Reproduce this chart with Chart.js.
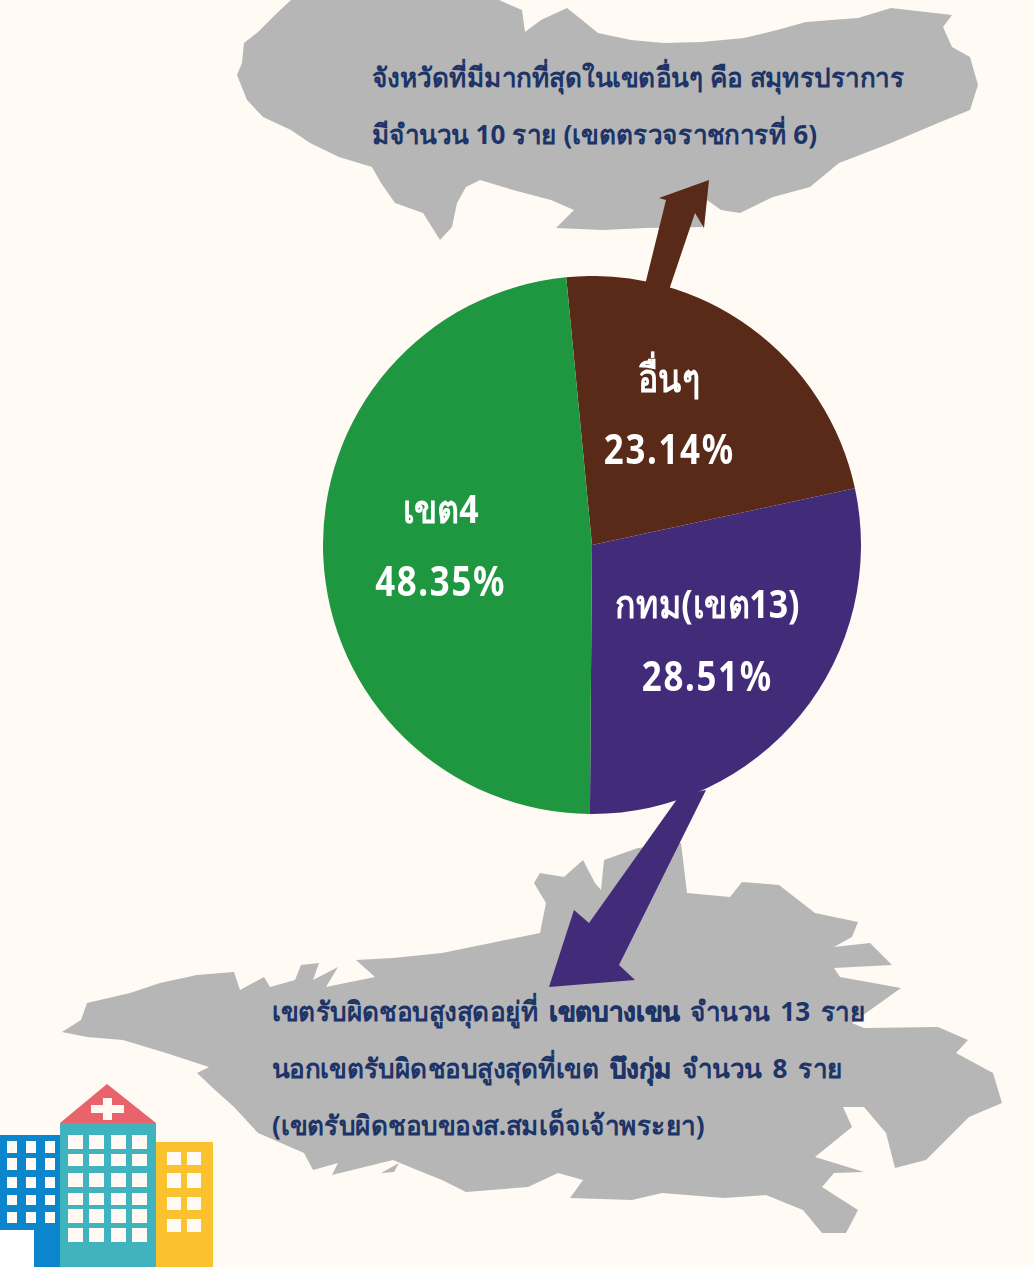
<!DOCTYPE html>
<html lang="th">
<head>
<meta charset="utf-8">
<title>เขตรับผิดชอบ</title>
<script src="https://cdn.jsdelivr.net/npm/chart.js@4"></script>
<style>
    html, body { margin: 0; padding: 0; background: #fffaf3; }
    #page { position: relative; width: 1033px; height: 1267px; overflow: hidden; background: #fffaf3; }
    #decor { position: absolute; left: 0; top: 0; }
    #pieWrap { position: absolute; left: 323px; top: 276px; width: 538px; height: 538px; }
    .note { position: absolute; white-space: nowrap; color: #1c3468; font-family: "Noto Sans", sans-serif; font-size: 27px; font-weight: 700; line-height: 57px; transform: scaleX(0.968); transform-origin: left top; }
    .note b { -webkit-text-stroke: 0.7px #1c3468; }
</style>
</head>
<body>
<div id="page">
    <svg id="decor" width="1033" height="1267">
        <!-- map shapes -->
        <polygon fill="#b6b6b6" points="291,0 277,13 258,32 244,43 242,63 237,75 247,100 263,117 291,130 310,143 339,157 372,167 381,183 395,203 423,213 440,240 452,227 457,203 466,187 480,180 513,190 551,200 574,210 556,228 603,230 645,228 702,227 707,200 721,210 740,213 773,197 810,187 839,163 891,143 938,123 970,110 978,85 970,57 952,47 943,27 952,15 891,8 858,18 806,22 777,30 744,38 702,42 664,43 631,40 598,33 582,20 567,8 541,20 525,32 522,10 499,0"/>
        <polygon fill="#b6b6b6" points="62,1032 81,1020 87,1003 130,993 160,983 197,975 234,972 240,990 264,977 270,987 295,980 301,965 319,963 313,980 338,967 326,987 375,977 356,960 393,958 442,953 491,943 540,933 546,903 534,883 540,873 564,877 583,860 595,883 601,890 604,860 638,848 681,843 687,893 730,897 742,882 779,885 815,913 858,922 852,937 834,947 870,943 892,965 834,968 840,977 901,988 852,1023 864,1028 938,1027 968,1040 956,1053 993,1073 1002,1103 969,1117 926,1160 895,1168 886,1133 864,1107 843,1107 852,1127 815,1157 864,1172 834,1173 822,1187 858,1210 846,1233 822,1233 803,1210 766,1195 724,1198 662,1193 632,1200 570,1198 583,1180 558,1173 528,1187 466,1192 442,1180 417,1170 393,1160 332,1175 338,1163 313,1170 304,1153 258,1133 234,1107 215,1090 197,1073 209,1067 166,1053 123,1040 87,1037"/>
        <polygon fill="#b6b6b6" points="381,1173 399,1163 394,1172"/>
        <!-- arrows -->
        <polygon fill="#5a2a18" points="645,285 666,200 659,198 709,180 704,228 695,213 669,290"/>
        <polygon fill="#422b78" points="680,795 589,923 574,910 549,987 635,980 619,965 706,790"/>
        <!-- hospital -->
        <rect x="0" y="1135" width="60" height="132" fill="#0b85cc"/>
        <rect x="0" y="1230" width="34" height="37" fill="#ffffff"/>
        <rect x="60" y="1123" width="96" height="144" fill="#3fb4bf"/>
        <polygon points="60,1123 107,1084 156,1123" fill="#e8636b"/>
        <rect x="91" y="1105" width="33" height="8" fill="#fffaf3"/>
        <rect x="103" y="1098" width="9" height="22" fill="#fffaf3"/>
        <rect x="156" y="1142" width="57" height="125" fill="#f9c22e"/>
        <g id="windows" fill="#fffaf3"></g>
    </svg>
    <div id="pieWrap"><canvas id="shareChart" width="538" height="538"></canvas></div>
    <div class="note" style="left:372px;top:48px;">จังหวัดที่มีมากที่สุดในเขตอื่นๆ คือ สมุทรปราการ<br>มีจำนวน 10 ราย (เขตตรวจราชการที่ 6)</div>
    <div class="note" style="left:272px;top:982px;word-spacing:4px;">เขตรับผิดชอบสูงสุดอยู่ที่ <b>เขตบางเขน</b> จำนวน 13 ราย<br>นอกเขตรับผิดชอบสูงสุดที่เขต <b>บึงกุ่ม</b> จำนวน 8 ราย<br>(เขตรับผิดชอบของส.สมเด็จเจ้าพระยา)</div>
</div>
<script>
const categories = ['อื่นๆ', 'กทม(เขต13)', 'เขต4'];
const shares = [23.14, 28.51, 48.35];
const sliceColors = ['#5a2a18', '#422b78', '#1f9640'];
// nudges from the arc centre to where each label sits
const labelNudge = [[-2, -20], [11, 13], [-17, -3]];

// hospital windows
const windowSets = [
    { xs: [7, 26, 45], w: 10, rows: [[1141, 12], [1158, 12], [1177, 11], [1195, 10], [1212, 11]] },
    { xs: [68, 89, 111, 132], w: 15, rows: [[1135, 14], [1154, 12], [1173, 14], [1193, 12], [1209, 14], [1228, 14]] },
    { xs: [167, 187], w: 14, rows: [[1152, 13], [1173, 15], [1197, 13], [1219, 13]] }
];
const windowGroup = document.getElementById('windows');
windowSets.forEach(function (set) {
    set.rows.forEach(function (row) {
        set.xs.forEach(function (x) {
            const r = document.createElementNS('http://www.w3.org/2000/svg', 'rect');
            r.setAttribute('x', x);
            r.setAttribute('y', row[0]);
            r.setAttribute('width', set.w);
            r.setAttribute('height', row[1]);
            windowGroup.appendChild(r);
        });
    });
});

// Squeezes a line of text sideways, the reference uses a condensed face
function drawSqueezed(ctx, text, x, y, squeeze) {
    ctx.save();
    ctx.translate(x, y);
    ctx.scale(squeeze, 1);
    ctx.fillText(text, 0, 0);
    ctx.restore();
}

// Draws the name and percentage on each slice
const sliceLabels = {
    id: 'sliceLabels',
    afterDatasetsDraw(chart) {
        const ctx = chart.ctx;
        ctx.save();
        ctx.fillStyle = '#ffffff';
        ctx.textAlign = 'center';
        ctx.textBaseline = 'middle';
        chart.getDatasetMeta(0).data.forEach(function (arc, i) {
            const p = arc.tooltipPosition();
            const x = p.x + labelNudge[i][0];
            const y = p.y + labelNudge[i][1];
            ctx.font = '700 39px "Noto Sans", sans-serif';
            drawSqueezed(ctx, categories[i], x, y - 36, 0.87);
            ctx.font = '700 42px "Noto Sans", sans-serif';
            ctx.letterSpacing = '2px';
            drawSqueezed(ctx, shares[i].toFixed(2) + '%', x, y + 36, 0.83);
            ctx.letterSpacing = '0px';
        });
        ctx.restore();
    }
};

new Chart(document.getElementById('shareChart').getContext('2d'), {
    type: 'pie',
    data: {
        labels: categories,
        datasets: [{
            data: shares,
            backgroundColor: sliceColors,
            borderWidth: 0
        }]
    },
    options: {
        responsive: false,
        animation: false,
        rotation: -5.5,
        plugins: {
            legend: { display: false },
            tooltip: { enabled: false }
        }
    },
    plugins: [sliceLabels]
});
</script>
</body>
</html>
